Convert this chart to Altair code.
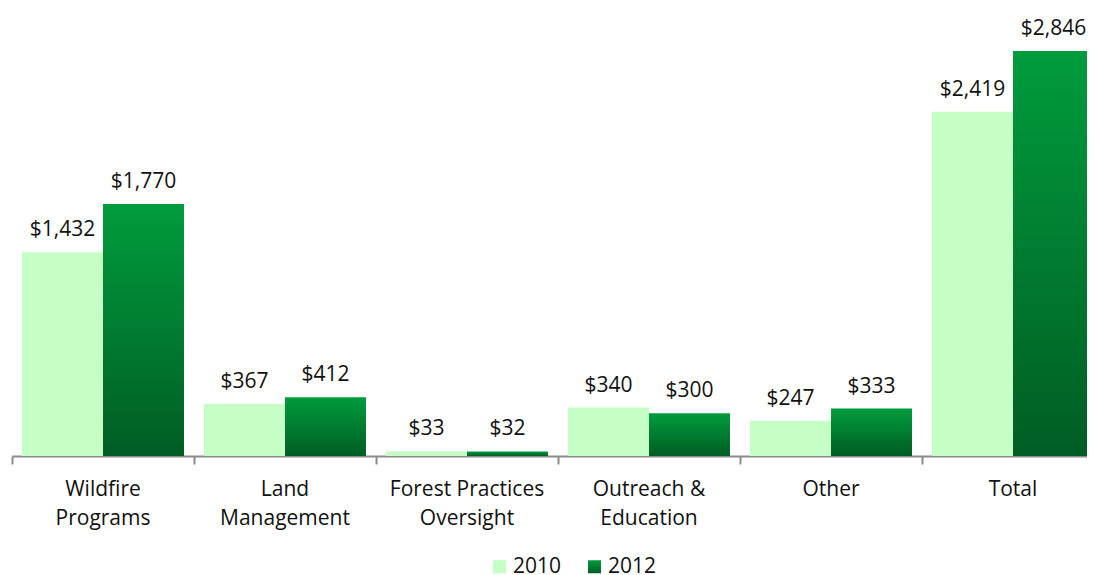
import altair as alt
import pandas as pd

categories = ["Wildfire\nPrograms", "Land\nManagement", "Forest Practices\nOversight",
              "Outreach &\nEducation", "Other", "Total"]
years = ["2010", "2012"]
values_2010 = [1432, 367, 33, 340, 247, 2419]
values_2012 = [1770, 412, 32, 300, 333, 2846]

rows = []
for c, a, b in zip(categories, values_2010, values_2012):
    rows.append({"category": c, "year": years[0], "value": a})
    rows.append({"category": c, "year": years[1], "value": b})
df = pd.DataFrame(rows)

FONT = "Open Sans"
FS = 21
grad_expr = ("{gradient: 'linear', x1: 0, y1: 0, x2: 0, y2: 1, "
             "stops: [{offset: 0, color: '#009c3d'}, {offset: 1, color: '#005d23'}]}")

x = alt.X("category:N", sort=categories, title=None,
          scale=alt.Scale(paddingInner=0, paddingOuter=0, rangeMax=1092),
          axis=alt.Axis(labelExpr="split(datum.label, '\\n')", labelAngle=0,
                        labelFont=FONT, labelFontSize=FS, labelColor="#111111",
                        labelLineHeight=29, labelPadding=14,
                        domainColor="#8a8a8a", domainWidth=2,
                        tickColor="#8a8a8a", tickWidth=2, tickSize=8,
                        bandPosition=0, grid=False))
xo = alt.XOffset("year:N", sort=years,
                 scale=alt.Scale(paddingInner=0, paddingOuter=0.1235))
y = alt.Y("value:Q", axis=None, scale=alt.Scale(domain=[0, 3000], nice=False))

bars = alt.Chart(df).mark_bar().encode(
    x=x, xOffset=xo, y=y,
    color=alt.Color("year:N", sort=years,
                    scale=alt.Scale(domain=years, range=["#c6ffc6", {"expr": grad_expr}]),
                    legend=alt.Legend(title=None, orient="none", legendX=477, legendY=527,
                                      direction="horizontal", symbolType="square",
                                      symbolSize=169, symbolStrokeWidth=0,
                                      labelFont=FONT, labelFontSize=FS, labelColor="#111111",
                                      labelOffset=3, columnPadding=22, padding=0)),
)

labels = alt.Chart(df).mark_text(baseline="bottom", dy=-12, font=FONT, fontSize=FS,
                                 color="#111111").encode(
    x=x, xOffset=xo, y=y,
    text=alt.Text("value:Q", format="$,.0f"),
)

chart = alt.layer(bars, labels).properties(
    width=1075, height=427,
    autosize=alt.AutoSizeParams(type="none"),
    padding={"left": 4, "top": 21, "right": 0, "bottom": 125},
).configure_view(stroke=None)

chart.save("out.html", embed_options={"renderer": "svg", "actions": False})
